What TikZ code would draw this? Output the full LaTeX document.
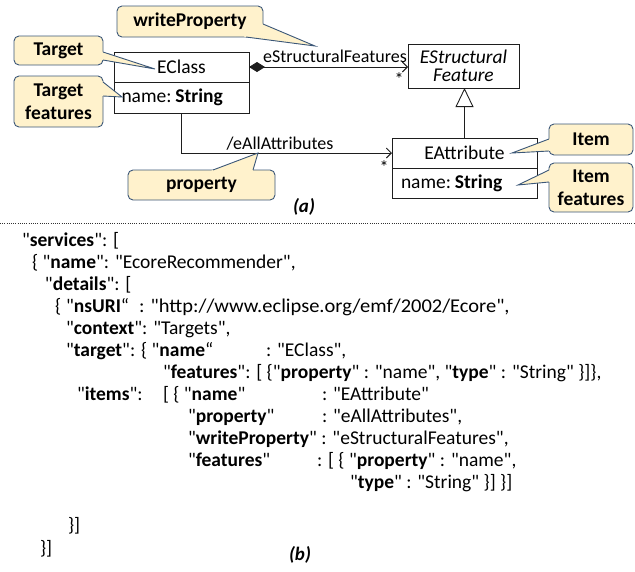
\documentclass[tikz,border=0pt]{standalone}
\usepackage{fontspec}
\setmainfont{Carlito}[Ligatures=TeXOff]
\usetikzlibrary{arrows.meta,calc}
\definecolor{callfill}{HTML}{FFF2CC}
\definecolor{callline}{HTML}{3B5778}
\definecolor{umlline}{HTML}{1E1E1E}
\definecolor{sepline}{HTML}{333333}

% pointer of a callout: edge point, tip, edge point
\newcommand\callptr[3]{%
  \fill[callfill] ($(#1)!-2pt!(#2)$) -- (#2) -- ($(#3)!-2pt!(#2)$) -- cycle;
  \draw[callline, line width=0.9pt, line join=miter] (#1) -- (#2) -- (#3);}

\begin{document}
\begin{tikzpicture}[x=1pt,y=-1pt,
  every node/.style={inner sep=0pt, outer sep=0pt},
  umltext/.style={font=\fontsize{19.5}{19}\selectfont},
  lbltext/.style={font=\fontsize{18}{18}\selectfont},
  classbox/.style={draw=umlline, line width=0.9pt, umltext},
  callbox/.style={draw=callline, fill=callfill, line width=0.9pt, rounded corners=5pt,
    font=\fontsize{19.5}{22.5}\selectfont\bfseries, align=center, anchor=north west},
  umlconn/.style={draw=umlline, line width=0.9pt},
  json/.style={anchor=base west, font=\fontsize{19.5}{22}\selectfont},
  caption/.style={font=\fontsize{19}{21}\selectfont\bfseries\itshape}
]
\useasboundingbox (0,0) rectangle (635,571);

% ---------- class diagram ----------
\node[classbox, minimum width=135pt, minimum height=30pt, anchor=north west] (ecname) at (114,52) {EClass};
\node[classbox, minimum width=135pt, minimum height=31pt, anchor=north west,
      text width=120pt, align=left] (ecattr) at (114,82) {name:\hspace{0.2em}\textbf{String}};

\node[classbox, minimum width=111pt, minimum height=44pt, anchor=north west,
      align=center, font=\fontsize{19.5}{18}\selectfont\itshape] (esf) at (408,44) {EStructural\\Feature};

\node[classbox, minimum width=145pt, minimum height=30pt, anchor=north west] (eaname) at (392,138) {EAttribute};
\node[classbox, minimum width=145pt, minimum height=30pt, anchor=north west,
      text width=127pt, align=left] (eaattr) at (392,168) {name:\hspace{0.2em}\textbf{String}};

% containment reference
\draw[umlconn, {Diamond[length=16pt,width=10pt]}-{Straight Barb[length=5pt,width=10pt]}]
  (ecname.east) -- (ecname.east -| esf.west);
\node[lbltext] (lblsf) at (335,56) {eStructuralFeatures};
\node[lbltext] (mult1) at (399,79) {*};

% generalization
\draw[umlconn, -{Triangle[open,length=19pt,width=18pt]}] (eaname.north) -- (eaname.north |- esf.south);

% derived reference
\draw[umlconn, -{Straight Barb[length=5pt,width=10pt]}] (ecattr.south) |- (eaname.west);
\node[lbltext] (lblall) at (280,144) {/eAllAttributes};
\node[lbltext] (mult2) at (384,167) {*};

% ---------- callouts ----------
\node[callbox, minimum width=146pt, minimum height=31pt] (cwp) at (117,6) {writeProperty};
\coordinate (cwpa) at (263,24); \coordinate (cwpt) at (315,46); \coordinate (cwpb) at (246,37);
\callptr{cwpa}{cwpt}{cwpb}

\node[callbox, minimum width=89pt, minimum height=29pt] (ctg) at (14,36) {Target};
\coordinate (ctga) at (103,52); \coordinate (ctgt) at (155,69); \coordinate (ctgb) at (103,60);
\callptr{ctga}{ctgt}{ctgb}

\node[callbox, minimum width=89pt, minimum height=51pt] (ctf) at (14,76) {Target\\features};
\coordinate (ctfa) at (103,82); \coordinate (ctft) at (122,97); \coordinate (ctfb) at (103,96);
\callptr{ctfa}{ctft}{ctfb}

\node[callbox, minimum width=147pt, minimum height=30pt] (cpr) at (128,170) {property};
\coordinate (cpra) at (213,170); \coordinate (cprt) at (258,153); \coordinate (cprb) at (253,170);
\callptr{cpra}{cprt}{cprb}

\node[callbox, minimum width=84pt, minimum height=31pt] (cit) at (549,124) {Item};
\coordinate (cita) at (549,139); \coordinate (citt) at (512,153); \coordinate (citb) at (549,151);
\callptr{cita}{citt}{citb}

\node[callbox, minimum width=84pt, minimum height=49pt] (cif) at (549,163) {Item\\features};
\coordinate (cifa) at (549,170); \coordinate (cift) at (518,185); \coordinate (cifb) at (549,182);
\callptr{cifa}{cift}{cifb}

\node[caption] (capa) at (304,207) {(a)};

% separator
\coordinate (sepl) at (0,223); \coordinate (sepr) at (635,223);
\draw[sepline, line width=0.6pt, dash pattern=on 1pt off 1.2pt] (sepl) -- (sepr);

% ---------- JSON configuration ----------
\node[json] (j1)  at (22,246.5)  {"\textbf{services}": [};
\node[json] (j2)  at (32,268.5)  {\{ "\textbf{name}": "EcoreRecommender",};
\node[json] (j3)  at (45,290.5)  {"\textbf{details}": [};
\node[json] (j4)  at (55,312.5)  {\{};
\node[json] (j4a) at (66,312.5)  {"\textbf{nsURI}“};
\node[json] (j4b) at (139,312.5) {\scalebox{1.05}[1]{: "http://www.eclipse.org/emf/2002/Ecore",}};
\node[json] (j5)  at (66,334.5)  {"\textbf{context}": "Targets",};
\node[json] (j6)  at (66,356.5)  {"\textbf{target}": \{ "\textbf{name}“};
\node[json] (j6b) at (266,356.5) {: "EClass",};
\node[json] (j7)  at (163,378.5) {"\textbf{features}": [ \{"\textbf{property}" : "name", "\textbf{type}" : "String" \}]\},};
\node[json] (j8)  at (77,400.5)  {"\textbf{items}":};
\node[json] (j8b) at (163,400.5) {[ \{ "\textbf{name}"};
\node[json] (j8c) at (322,400.5) {: "EAttribute"};
\node[json] (j9)  at (188,422.5) {"\textbf{property}"};
\node[json] (j9b) at (322,422.5) {: "eAllAttributes",};
\node[json] (j10) at (188,444.5) {"\textbf{writeProperty}" : "eStructuralFeatures",};
\node[json] (j11) at (188,466.5) {"\textbf{features}"};
\node[json] (j11b) at (317,466.5) {: [ \{ "\textbf{property}" : "name",};
\node[json] (j12) at (350,488.5) {"\textbf{type}" : "String" \}] \}]};
\node[json] (j13) at (68,531)   {\}]};
\node[json] (j14) at (40,554)   {\}]};

\node[caption] (capb) at (300,555) {(b)};
\end{tikzpicture}
\end{document}
